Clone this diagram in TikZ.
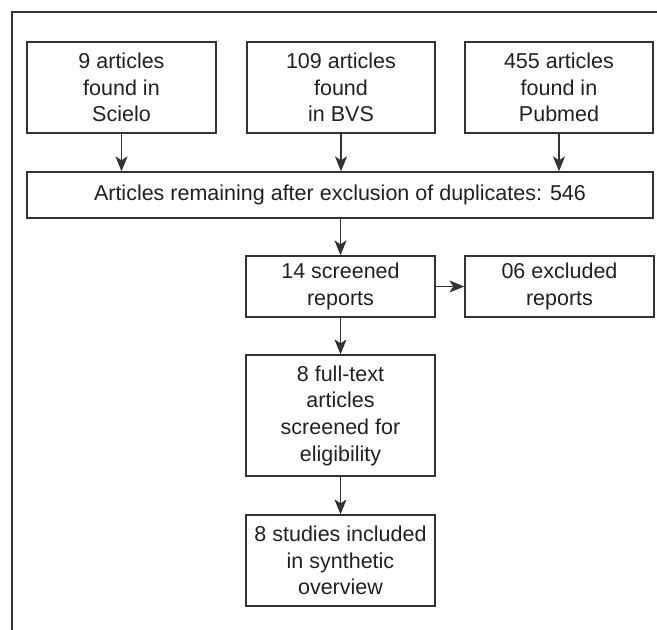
\documentclass[tikz,border=0pt]{standalone}
\usepackage{fontspec}
\setmainfont{Liberation Sans}
\usetikzlibrary{arrows.meta}
\definecolor{linegray}{HTML}{333333}
\definecolor{textgray}{HTML}{231F20}
\tikzset{
  box/.style={draw=linegray, line width=1.3pt, align=center, inner sep=0pt,
    text=textgray, font={\fontsize{21.5}{26.7}\selectfont}},
  flow/.style={draw=linegray, line width=1.3pt, -{Stealth[length=15pt, width=12pt, inset=4pt]}},
  frame/.style={draw=linegray, line width=1.3pt}
}
\begin{document}
\begin{tikzpicture}[x=1pt, y=-1pt]
\useasboundingbox (0,0) rectangle (657,630);
\draw[frame] (12,631) -- (12,12) -- (658,12);
\node[box, minimum width=189pt, minimum height=91pt] (scielo) at (121.5,87.5) {9 articles\\found in\\Scielo};
\node[box, minimum width=188pt, minimum height=91pt] (bvs) at (341,87.5) {109 articles\\found\\in BVS};
\node[box, minimum width=188pt, minimum height=91pt] (pubmed) at (559,87.5) {455 articles\\found in\\Pubmed};
\node[box, minimum width=626pt, minimum height=46pt] (wide) at (340,195) {Articles remaining after exclusion of duplicates: 546};
\node[box, minimum width=189pt, minimum height=61pt] (screened) at (340.5,286.5) {14 screened\\reports};
\node[box, minimum width=189pt, minimum height=61pt] (excluded) at (559.5,286.5) {06 excluded\\reports};
\node[box, minimum width=189pt, minimum height=121pt] (fulltext) at (340.5,415.5) {8 full-text\\articles\\screened for\\eligibility};
\node[box, minimum width=189pt, minimum height=91pt] (included) at (340.5,560.5) {8 studies included\\in synthetic\\overview};
\draw[flow] (scielo.south) -- (scielo.south |- wide.north);
\draw[flow] (bvs.south) -- (bvs.south |- wide.north);
\draw[flow] (pubmed.south) -- (pubmed.south |- wide.north);
\draw[flow] (wide.south -| screened.north) -- (screened.north);
\draw[flow] (screened.east) -- (excluded.west);
\draw[flow] (screened.south) -- (fulltext.north);
\draw[flow] (fulltext.south) -- (included.north);
\end{tikzpicture}
\end{document}
